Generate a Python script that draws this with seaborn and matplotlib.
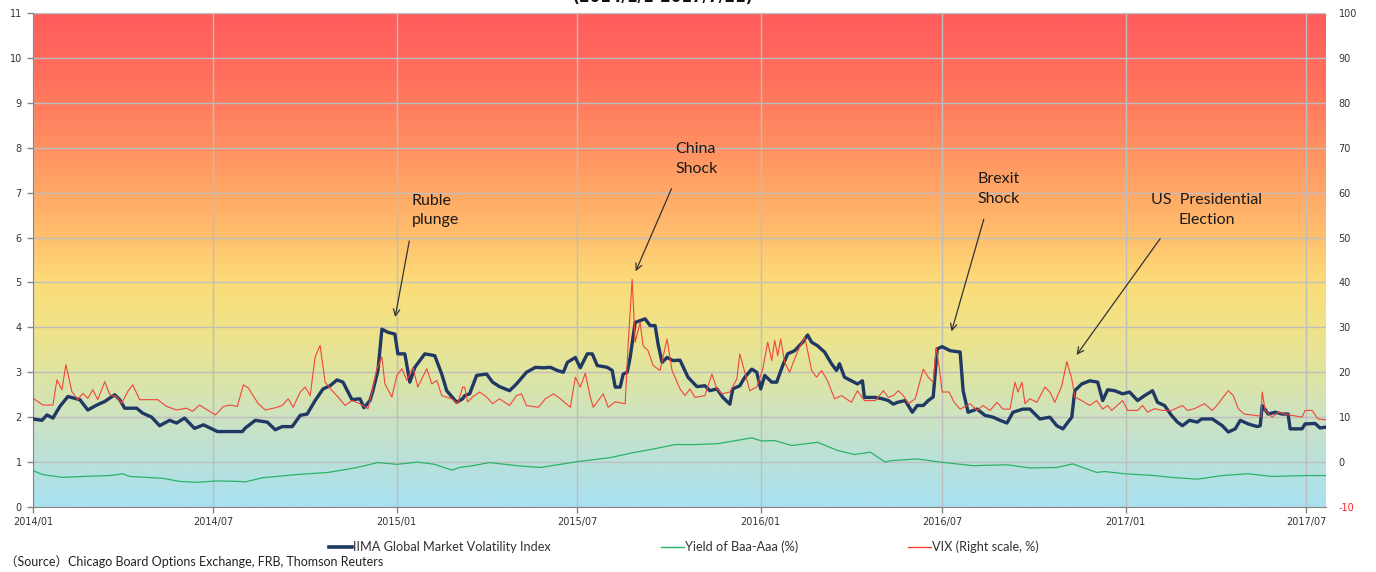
import numpy as np
import pandas as pd
import matplotlib
matplotlib.use("Agg")
import matplotlib.pyplot as plt
import matplotlib.dates as mdates
from matplotlib.colors import LinearSegmentedColormap
from matplotlib.lines import Line2D
import seaborn as sns

START = pd.Timestamp("2014-01-01")
END = pd.Timestamp("2017-07-21")

# IIMA Global Market Volatility Index (left scale); days counted from 2014-01-01
iima_day = [0, 9, 14, 20, 27, 35, 47, 55, 64, 72,
            82, 87, 92, 104, 110, 119, 127, 137, 144, 152,
            162, 171, 185, 198, 210, 213, 216, 223, 235, 243,
            250, 260, 268, 275, 283, 291, 298, 305, 311, 316,
            320, 328, 332, 338, 341, 346, 350, 356, 363, 366,
            373, 378, 383, 393, 403, 410, 415, 425, 431, 433,
            438, 445, 455, 461, 468, 478, 485, 495, 504, 512,
            519, 526, 532, 536, 544, 549, 556, 561, 566, 576,
            581, 584, 589, 592, 596, 599, 604, 609, 614, 619,
            624, 627, 631, 636, 642, 649, 657, 666, 674, 679,
            686, 692, 699, 702, 709, 714, 721, 726, 730, 734,
            741, 746, 752, 757, 764, 772, 777, 781, 787, 794,
            801, 806, 809, 814, 821, 827, 832, 834, 845, 852,
            858, 863, 867, 875, 882, 887, 893, 898, 903, 907,
            912, 920, 930, 933, 938, 947, 955, 963, 970, 977,
            983, 993, 1000, 1010, 1020, 1027, 1033, 1042, 1045, 1052,
            1060, 1068, 1073, 1078, 1085, 1093, 1100, 1108, 1115, 1123,
            1128, 1135, 1142, 1148, 1153, 1160, 1168, 1172, 1183, 1193,
            1199, 1206, 1211, 1219, 1228, 1231, 1233, 1239, 1246, 1253,
            1259, 1261, 1273, 1276, 1286, 1291, 1297]
iima_val = [1.96, 1.93, 2.05, 1.98, 2.24, 2.46, 2.39, 2.16, 2.27, 2.35,
            2.50, 2.39, 2.20, 2.20, 2.09, 2.00, 1.81, 1.93, 1.87, 1.98,
            1.75, 1.83, 1.68, 1.68, 1.68, 1.76, 1.81, 1.93, 1.89, 1.72,
            1.79, 1.79, 2.04, 2.07, 2.37, 2.63, 2.70, 2.83, 2.78, 2.56,
            2.39, 2.41, 2.21, 2.37, 2.59, 3.04, 3.96, 3.89, 3.85, 3.41,
            3.41, 2.78, 3.11, 3.41, 3.37, 2.96, 2.59, 2.33, 2.41, 2.48,
            2.52, 2.93, 2.96, 2.78, 2.68, 2.59, 2.74, 3.00, 3.11, 3.10,
            3.11, 3.04, 3.00, 3.22, 3.33, 3.10, 3.41, 3.41, 3.15, 3.11,
            3.04, 2.67, 2.67, 2.96, 3.00, 3.33, 4.11, 4.15, 4.19, 4.04,
            4.04, 3.63, 3.22, 3.33, 3.26, 3.27, 2.89, 2.68, 2.70, 2.59,
            2.63, 2.44, 2.29, 2.63, 2.70, 2.89, 3.07, 3.00, 2.63, 2.93,
            2.78, 2.78, 3.15, 3.41, 3.48, 3.67, 3.83, 3.67, 3.59, 3.45,
            3.19, 3.04, 3.19, 2.89, 2.81, 2.74, 2.81, 2.44, 2.44, 2.41,
            2.37, 2.29, 2.33, 2.37, 2.11, 2.26, 2.26, 2.37, 2.45, 3.52,
            3.57, 3.48, 3.45, 2.59, 2.11, 2.18, 2.04, 2.00, 1.93, 1.87,
            2.11, 2.18, 2.18, 1.96, 2.00, 1.81, 1.74, 2.00, 2.59, 2.74,
            2.81, 2.78, 2.37, 2.61, 2.59, 2.52, 2.56, 2.37, 2.48, 2.59,
            2.33, 2.26, 2.04, 1.89, 1.81, 1.93, 1.89, 1.96, 1.96, 1.81,
            1.67, 1.74, 1.93, 1.85, 1.79, 1.81, 2.26, 2.07, 2.11, 2.07,
            2.07, 1.74, 1.74, 1.85, 1.86, 1.76, 1.78]

# Yield of Baa-Aaa (%) (left scale)
baa_day = [0, 10, 30, 50, 77, 90, 97, 130, 147, 164,
           185, 205, 213, 230, 263, 296, 323, 346, 365, 386,
           403, 420, 428, 441, 458, 485, 509, 546, 579, 602,
           622, 644, 664, 687, 721, 731, 744, 761, 787, 807,
           824, 840, 855, 860, 887, 910, 943, 977, 1000, 1027,
           1043, 1053, 1067, 1075, 1095, 1125, 1142, 1168, 1193, 1219,
           1243, 1276, 1297]
baa_val = [0.81, 0.72, 0.66, 0.68, 0.70, 0.74, 0.68, 0.64, 0.57, 0.55,
           0.58, 0.57, 0.56, 0.65, 0.72, 0.77, 0.87, 0.99, 0.95, 1.00,
           0.95, 0.82, 0.88, 0.92, 0.99, 0.92, 0.88, 1.01, 1.10, 1.21,
           1.29, 1.39, 1.39, 1.41, 1.54, 1.47, 1.48, 1.37, 1.44, 1.26,
           1.17, 1.22, 1.00, 1.03, 1.07, 1.00, 0.92, 0.94, 0.87, 0.88,
           0.96, 0.88, 0.77, 0.79, 0.74, 0.70, 0.66, 0.62, 0.70, 0.74,
           0.68, 0.70, 0.70]

# VIX (right scale, %)
vix_day = [0, 10, 20, 24, 29, 33, 39, 45, 50, 55,
           60, 65, 72, 77, 84, 89, 95, 100, 107, 115,
           125, 134, 144, 154, 160, 167, 175, 183, 191, 198,
           205, 211, 216, 226, 233, 243, 250, 256, 261, 268,
           273, 278, 283, 288, 293, 300, 306, 313, 320, 328,
           336, 340, 345, 350, 353, 360, 365, 370, 375, 381,
           386, 395, 400, 405, 410, 420, 426, 431, 433, 436,
           441, 448, 455, 461, 468, 478, 485, 490, 495, 507,
           514, 522, 529, 539, 544, 549, 554, 559, 562, 572,
           577, 584, 594, 597, 601, 604, 609, 612, 617, 622,
           629, 636, 641, 644, 649, 654, 659, 664, 674, 681,
           686, 691, 699, 706, 709, 714, 719, 726, 732, 737,
           741, 744, 747, 750, 754, 759, 764, 769, 774, 777,
           781, 786, 791, 797, 804, 811, 821, 827, 834, 845,
           853, 858, 863, 868, 873, 878, 885, 893, 898, 903,
           906, 909, 912, 919, 924, 930, 940, 947, 953, 960,
           967, 973, 980, 985, 988, 992, 995, 1000, 1007, 1015,
           1020, 1025, 1032, 1037, 1042, 1045, 1052, 1060, 1067, 1073,
           1078, 1082, 1093, 1098, 1108, 1113, 1118, 1125, 1133, 1142,
           1153, 1158, 1165, 1175, 1183, 1189, 1194, 1199, 1204, 1209,
           1215, 1226, 1232, 1233, 1236, 1243, 1249, 1256, 1263, 1273,
           1276, 1283, 1289, 1297]
vix_val = [14.2, 12.7, 12.7, 18.3, 16.1, 21.7, 15.7, 13.9, 15.3, 14.2,
           16.1, 13.9, 17.9, 15.0, 14.6, 13.1, 15.7, 17.2, 13.9, 13.9,
           13.9, 12.4, 11.6, 12.0, 11.3, 12.7, 11.6, 10.5, 12.4, 12.7,
           12.4, 17.2, 16.5, 13.0, 11.6, 12.1, 12.6, 14.1, 12.2, 15.6,
           16.7, 14.8, 23.4, 26.0, 17.8, 15.9, 14.5, 12.6, 13.7, 13.0,
           11.9, 15.6, 20.8, 23.4, 17.4, 14.5, 19.3, 20.8, 18.2, 21.1,
           16.7, 20.8, 17.4, 18.2, 14.8, 14.1, 13.0, 16.7, 16.7, 13.4,
           14.5, 15.6, 14.5, 13.0, 14.1, 12.6, 14.8, 15.2, 12.6, 12.2,
           14.1, 15.2, 14.1, 12.2, 18.9, 16.7, 19.8, 14.5, 12.2, 15.2,
           12.2, 13.4, 13.0, 26.3, 40.7, 26.7, 31.1, 25.9, 24.8, 21.5,
           20.4, 27.4, 20.4, 18.9, 16.3, 14.8, 16.3, 14.4, 14.8, 19.6,
           16.3, 15.2, 15.6, 18.5, 24.1, 20.0, 15.9, 16.7, 20.7, 26.7,
           22.6, 27.1, 23.7, 27.4, 22.2, 20.0, 23.0, 25.6, 27.8, 24.8,
           20.4, 18.9, 20.4, 18.1, 14.1, 14.8, 13.3, 15.9, 13.7, 13.7,
           15.9, 14.4, 14.8, 15.9, 14.8, 13.0, 14.1, 20.7, 18.9, 17.8,
           25.5, 21.1, 15.6, 15.6, 13.3, 11.8, 13.0, 11.5, 12.6, 11.5,
           13.3, 11.8, 11.8, 17.8, 15.6, 17.8, 13.0, 14.1, 13.3, 16.7,
           15.6, 13.3, 17.0, 22.4, 18.5, 14.5, 13.7, 12.6, 13.7, 11.8,
           12.6, 11.5, 13.7, 11.5, 11.5, 12.6, 11.1, 11.9, 11.5, 11.5,
           12.6, 11.5, 11.9, 13.0, 11.5, 13.0, 14.5, 15.9, 14.8, 11.9,
           10.7, 10.4, 10.2, 15.6, 11.5, 10.0, 11.1, 10.7, 10.4, 10.0,
           11.5, 11.5, 9.6, 9.4]

series_labels = ["IIMA Global Market Volatility Index", "Yield of Baa-Aaa (%)", "VIX (Right scale, %)"]
series_colors = ["#1F3864", "#2BB366", "#F2453A"]

# events: label, text day, text level, arrow day, arrow level
events = [
    ("Ruble\nplunge", 380, 6.6, 363, 4.2, "left", (0.0, 0.0)),
    ("China\nShock", 644, 7.75, 604, 5.22, "left", (0.05, 0.0)),
    ("Brexit\nShock", 947, 7.08, 921, 3.88, "left", (0.25, 0.0)),
    ("US  Presidential\nElection", 1177, 6.61, 1046, 3.36, "center", (0.16, 0.0)),
]


def to_frame(days, vals):
    return pd.DataFrame({"date": START + pd.to_timedelta(days, unit="D"), "value": vals})


iima_df = to_frame(iima_day, iima_val)
baa_df = to_frame(baa_day, baa_val)
vix_df = to_frame(vix_day, vix_val)

plt.rcParams["font.family"] = ["DejaVu Sans"]

fig = plt.figure(figsize=(13.76, 5.72), dpi=100)
ax = fig.add_axes([33 / 1376, 1 - 507 / 572, (1326 - 33) / 1376, (507 - 13) / 572])
ax2 = ax.twinx()

x0, x1 = mdates.date2num(START), mdates.date2num(END)

# background gradient, blue at the bottom to red at the top
grad_colors = ["#A9E1F2", "#B9E1DA", "#CDE3C1", "#E0E5A0", "#F0E388", "#FCDC78",
               "#FFC06E", "#FFA866", "#FF9162", "#FF7B5E", "#FF695C", "#FF5C5C"]
cmap = LinearSegmentedColormap.from_list("vol", grad_colors)
grad = np.linspace(0, 1, 512).reshape(-1, 1)
ax.imshow(grad, cmap=cmap, aspect="auto", origin="lower",
          extent=[x0, x1, 0, 11], zorder=0, interpolation="bilinear")

sns.lineplot(data=iima_df, x="date", y="value", ax=ax, color=series_colors[0],
             linewidth=2.4, estimator=None, zorder=3)
sns.lineplot(data=baa_df, x="date", y="value", ax=ax, color=series_colors[1],
             linewidth=0.9, estimator=None, zorder=3)
sns.lineplot(data=vix_df, x="date", y="value", ax=ax2, color=series_colors[2],
             linewidth=0.8, estimator=None, zorder=3)

ax.set_xlim(x0, x1)
ax.set_ylim(0, 11)
ax2.set_ylim(-10, 100)

# axes styling
ax.set_axisbelow(True)
ax.grid(True, color="#BEBEBE", linewidth=1.0)
ticks = pd.date_range("2014-01-01", "2017-07-01", freq="6MS")
ax.set_xticks(mdates.date2num(ticks))
ax.set_xticklabels([t.strftime("%Y/%m") for t in ticks])
ax.set_yticks(range(0, 12))
ax2.set_yticks(range(-10, 101, 10))
ax2.set_yticklabels([str(v) for v in range(-10, 101, 10)])

for a in (ax, ax2):
    a.set_xlabel("")
    a.set_ylabel("")
    for s in ("top", "right"):
        a.spines[s].set_visible(False)
ax2.spines["left"].set_visible(False)
ax2.spines["bottom"].set_visible(False)
ax.spines["left"].set_color("#868686")
ax.spines["bottom"].set_color("#868686")
ax.tick_params(axis="both", labelsize=7, colors="#868686", labelcolor="#333333",
               length=4, width=1)
ax.tick_params(axis="x", pad=3)
ax.tick_params(axis="y", pad=4)
ax2.tick_params(axis="y", labelsize=7, length=0, pad=9, labelcolor="#333333")
ax2.get_yticklabels()[0].set_color("#FF2020")

# event annotations
for label, tday, tlev, aday, alev, ha, rel in events:
    tx = mdates.date2num(START + pd.Timedelta(days=tday))
    axx = mdates.date2num(START + pd.Timedelta(days=aday))
    ax.annotate(label, xy=(axx, alev), xytext=(tx, tlev), textcoords="data",
                ha=ha, va="center", multialignment=ha, fontsize=11.5,
                family=["Lato", "DejaVu Sans"], color="#1A1A1A", linespacing=1.5,
                zorder=6,
                arrowprops=dict(arrowstyle="->", color="#333333", lw=0.9,
                                relpos=rel, shrinkA=8, shrinkB=1))

# legend below the chart
handles = [Line2D([], [], color=series_colors[0], lw=2.6),
           Line2D([], [], color=series_colors[1], lw=1.0),
           Line2D([], [], color=series_colors[2], lw=1.0)]
fig.legend(handles, series_labels, loc="center", bbox_to_anchor=(0.497, 0.044),
           ncol=3, frameon=False, handlelength=1.8, handletextpad=0.1,
           columnspacing=8.6, prop={"family": ["Lato", "DejaVu Sans"], "size": 9.2},
           labelcolor="#333333")

fig.text(5 / 1376, 1 - 562 / 572, "（Source）Chicago Board Options Exchange, FRB, Thomson Reuters",
         ha="left", va="center", fontsize=9, color="#222222",
         family=["Lato", "Noto Sans CJK JP", "DejaVu Sans"])

# title, mostly cut off at the top of the picture
fig.text(663 / 1376, 1 - 5 / 572, "(2014/1/1-2017/7/21)", ha="center", va="bottom",
         fontsize=11, fontweight="bold", color="#111111")

fig.savefig("out.png", dpi=100)
